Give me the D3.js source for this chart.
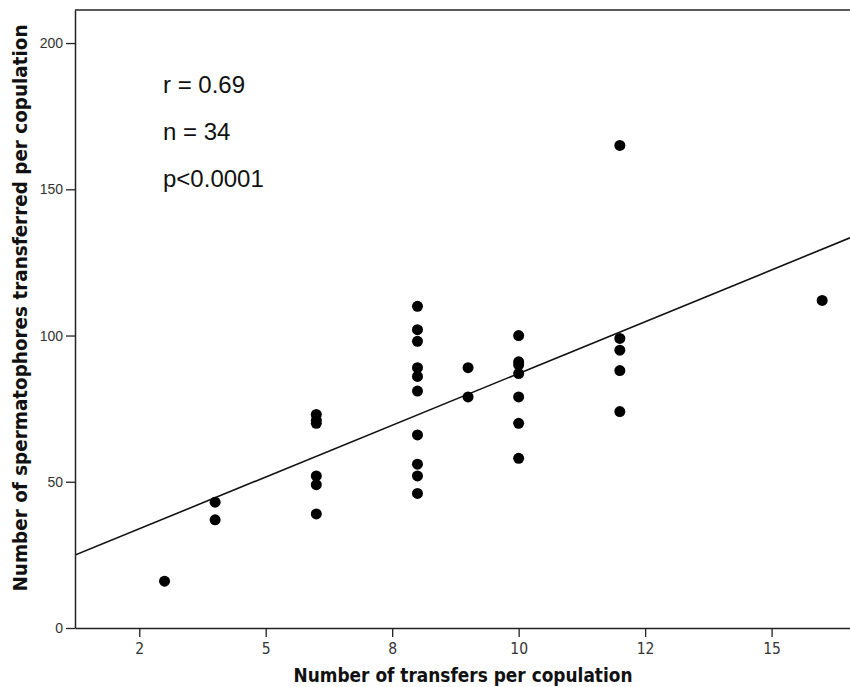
<!DOCTYPE html>
<html>
<head>
<meta charset="utf-8">
<script src="https://cdn.jsdelivr.net/npm/d3@7"></script>
<style>
body { margin: 0; background: #fff; }
</style>
</head>
<body>
<script>
// Data: one entry per copulation
var transfers = [3,
    4, 4,
    6, 6, 6, 6, 6, 6,
    8, 8, 8, 8, 8, 8, 8, 8, 8, 8,
    9, 9,
    10, 10, 10, 10, 10, 10, 10,
    12, 12, 12, 12, 12,
    16];
var spermatophores = [16,
    43, 37,
    73, 71, 70, 52, 49, 39,
    110, 102, 98, 89, 86, 81, 66, 56, 52, 46,
    89, 79,
    100, 91, 90, 87, 79, 70, 58,
    165, 99, 95, 88, 74,
    112];

// Axis ticks (SPSS rounds 2.5 / 7.5 / 12.5 half-to-even)
var xTickValues = [2.5, 5, 7.5, 10, 12.5, 15];
var xTickLabels = ["2", "5", "8", "10", "12", "15"];
var yTickValues = [0, 50, 100, 150, 200];
var statLabels = ["r = 0.69", "n = 34", "p<0.0001"];

var xTitle = "Number of transfers per copulation";
var yTitle = "Number of spermatophores transferred per copulation";

// SVG Variables
var WIDTH = 850;
var HEIGHT = 687;
var margin = {top: 10, left: 75, bottom: 59, right: 0};

var data = transfers.map(function(t, i) { return {x: t, y: spermatophores[i]}; });

var svg = d3.select("body").append("svg")
    .attr("width", WIDTH).attr("height", HEIGHT);

// plot runs off the right edge of the picture, like the original crop
var x_scale = d3.scaleLinear().domain([1.23, 16.55]).range([margin.left, WIDTH]);
var y_scale = d3.scaleLinear().domain([0, 211.3]).range([HEIGHT - margin.bottom, margin.top]);

svg.append("clipPath").attr("id", "plotclip")
    .append("rect")
    .attr("x", margin.left).attr("y", margin.top)
    .attr("width", WIDTH - margin.left)
    .attr("height", HEIGHT - margin.bottom - margin.top);

// top frame line
svg.append("line")
    .attr("x1", margin.left).attr("x2", WIDTH + 2)
    .attr("y1", margin.top).attr("y2", margin.top)
    .attr("stroke", "#222").attr("stroke-width", 1.5);

// least squares fit line
var mx = d3.mean(transfers), my = d3.mean(spermatophores);
var sxy = d3.sum(data, function(d) { return (d.x - mx) * (d.y - my); });
var sxx = d3.sum(data, function(d) { return (d.x - mx) * (d.x - mx); });
var slope = sxy / sxx;
var intercept = my - slope * mx;
var xd = x_scale.domain();

svg.append("path")
    .datum(xd)
    .attr("clip-path", "url(#plotclip)")
    .attr("d", d3.line()
        .x(function(d) { return x_scale(d); })
        .y(function(d) { return y_scale(intercept + slope * d); }))
    .attr("fill", "none")
    .attr("stroke", "#111")
    .attr("stroke-width", 1.6);

// points
svg.append("g").attr("clip-path", "url(#plotclip)")
    .selectAll("circle").data(data).enter().append("circle")
    .attr("cx", function(d) { return x_scale(d.x); })
    .attr("cy", function(d) { return y_scale(d.y); })
    .attr("r", 5.5)
    .attr("fill", "#000");

// X-axis
var xAxis = svg.append("g")
    .attr("transform", "translate(0," + (HEIGHT - margin.bottom) + ")")
    .call(d3.axisBottom(x_scale)
        .tickValues(xTickValues)
        .tickFormat(function(d, i) { return xTickLabels[i]; })
        .tickSize(9).tickSizeOuter(0).tickPadding(6));

// Y-axis
var yAxis = svg.append("g")
    .attr("transform", "translate(" + margin.left + ",0)")
    .call(d3.axisLeft(y_scale)
        .tickValues(yTickValues)
        .tickSize(9).tickSizeOuter(0).tickPadding(3));

[xAxis, yAxis].forEach(function(ax) {
    ax.select(".domain").attr("stroke", "#222").attr("stroke-width", 1.5);
    ax.selectAll(".tick line").attr("stroke", "#222").attr("stroke-width", 1.3);
    ax.selectAll(".tick text").attr("fill", "#333");
});
xAxis.selectAll(".tick text")
    .style("font-family", "'Liberation Sans Narrow', 'DejaVu Sans Condensed', Arial, sans-serif")
    .style("font-size", "15.5px");
yAxis.selectAll(".tick text")
    .style("font-family", "'Liberation Sans', Arial, sans-serif")
    .style("font-size", "14px");

// X Label
svg.append("text")
    .attr("x", 463).attr("y", 682)
    .attr("text-anchor", "middle")
    .attr("textLength", 339)
    .attr("lengthAdjust", "spacingAndGlyphs")
    .style("font-family", "'Liberation Sans Narrow', 'DejaVu Sans Condensed', Arial, sans-serif")
    .style("font-weight", "bold")
    .style("font-size", "19px")
    .attr("fill", "#111")
    .text(xTitle);

// Y Label
svg.append("text")
    .attr("transform", "translate(27,308) rotate(-90)")
    .attr("text-anchor", "middle")
    .attr("textLength", 567)
    .attr("lengthAdjust", "spacingAndGlyphs")
    .style("font-family", "'Liberation Sans Narrow', 'DejaVu Sans Condensed', Arial, sans-serif")
    .style("font-weight", "bold")
    .style("font-size", "19px")
    .attr("fill", "#111")
    .text(yTitle);

// stats block
svg.append("g").selectAll("text").data(statLabels).enter().append("text")
    .attr("x", 163)
    .attr("y", function(d, i) { return 93 + i * 47; })
    .style("font-family", "'Liberation Sans', Arial, sans-serif")
    .style("font-size", "24px")
    .attr("fill", "#111")
    .text(function(d) { return d; });
</script>
</body>
</html>
